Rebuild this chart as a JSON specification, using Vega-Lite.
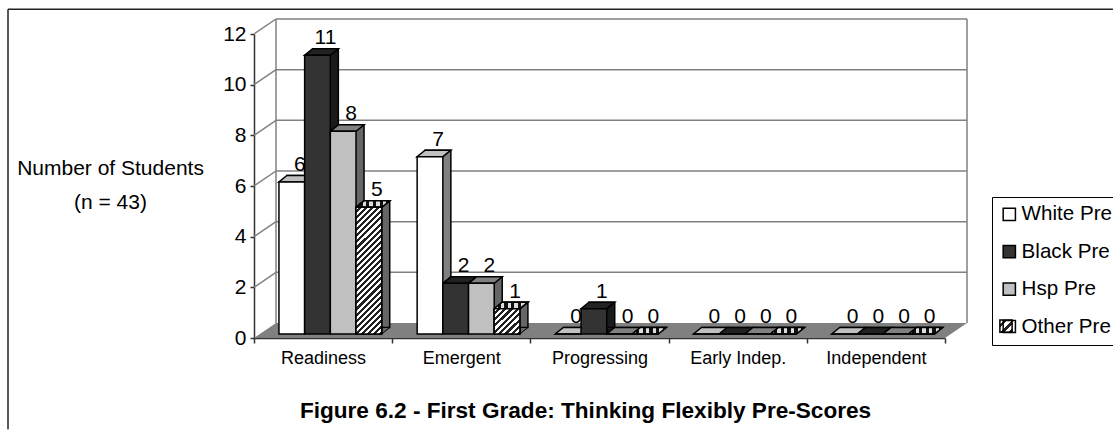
{"$schema":"https://vega.github.io/schema/vega-lite/v6.json","width":691,"height":304,"autosize":{"type":"none"},"padding":{"left":254,"top":34,"right":168,"bottom":92},"background":"white","config":{"view":{"stroke":null},"font":"Liberation Sans"},
"datasets":{"scores":[
{"category":"Readiness","series":"White Pre","value":6},{"category":"Readiness","series":"Black Pre","value":11},{"category":"Readiness","series":"Hsp Pre","value":8},{"category":"Readiness","series":"Other Pre","value":5},
{"category":"Emergent","series":"White Pre","value":7},{"category":"Emergent","series":"Black Pre","value":2},{"category":"Emergent","series":"Hsp Pre","value":2},{"category":"Emergent","series":"Other Pre","value":1},
{"category":"Progressing","series":"White Pre","value":0},{"category":"Progressing","series":"Black Pre","value":1},{"category":"Progressing","series":"Hsp Pre","value":0},{"category":"Progressing","series":"Other Pre","value":0},
{"category":"Early Indep.","series":"White Pre","value":0},{"category":"Early Indep.","series":"Black Pre","value":0},{"category":"Early Indep.","series":"Hsp Pre","value":0},{"category":"Early Indep.","series":"Other Pre","value":0},
{"category":"Independent","series":"White Pre","value":0},{"category":"Independent","series":"Black Pre","value":0},{"category":"Independent","series":"Hsp Pre","value":0},{"category":"Independent","series":"Other Pre","value":0}],
"ticks":[{"tick":2},{"tick":4},{"tick":6},{"tick":8},{"tick":10},{"tick":12}],"one":[{"part":"frame"}]},
"data":{"name":"scores"},
"resolve":{"scale":{"x":"independent"}},
"layer":[
{"data":{"name":"one"},"mark":{"type":"point","shape":"M-345.5,0 L345.5,0 L367.5,-15 L-323.5,-15 Z","size":4,"filled":true,"fill":"#808080","stroke":null,"opacity":1},"encoding":{"x":{"datum":0.5,"type":"quantitative","scale":{"domain":[0,1],"nice":false,"zero":false},"axis":null},"y":{"datum":0,"type":"quantitative","scale":{"domain":[0,12],"nice":false},"axis":{"values":[0,2,4,6,8,10,12],"grid":false,"title":["Number of Students","(n = 43)"],"titleAngle":0,"titleFont":"Liberation Sans","titleFontWeight":"normal","titleFontSize":21,"titleColor":"black","titleX":-144,"titleY":134,"titleLineHeight":34,"titleAlign":"center","titleBaseline":"middle","labelFontSize":21,"labelColor":"black","labelPadding":4,"tickSize":4,"tickColor":"#333","domainColor":"#333","domainWidth":1.5,"tickWidth":1.5}}}},
{"data":{"name":"ticks"},"mark":{"type":"rule","color":"#808080","strokeWidth":1.5,"xOffset":22,"x2Offset":22,"yOffset":-15},"encoding":{"x":{"datum":0,"type":"quantitative","scale":{"domain":[0,1],"nice":false,"zero":false},"axis":null},"x2":{"datum":1},"y":{"field":"tick","type":"quantitative"}}},
{"data":{"name":"ticks"},"mark":{"type":"point","shape":"M0,0 L22,-15","size":4,"filled":false,"stroke":"#808080","strokeWidth":1.5,"opacity":1},"encoding":{"x":{"datum":0,"type":"quantitative","scale":{"domain":[0,1],"nice":false,"zero":false},"axis":null},"y":{"field":"tick","type":"quantitative"}}},
{"data":{"name":"one"},"mark":{"type":"rule","color":"#808080","strokeWidth":1.5,"xOffset":22,"yOffset":-15,"y2Offset":-15},"encoding":{"x":{"datum":0,"type":"quantitative","scale":{"domain":[0,1],"nice":false,"zero":false},"axis":null},"y":{"datum":0},"y2":{"datum":12}}},
{"data":{"name":"one"},"mark":{"type":"rule","color":"#808080","strokeWidth":1.5,"xOffset":22,"yOffset":-15,"y2Offset":-15},"encoding":{"x":{"datum":1,"type":"quantitative","scale":{"domain":[0,1],"nice":false,"zero":false},"axis":null},"y":{"datum":0},"y2":{"datum":12}}},
{"data":{"name":"one"},"mark":{"type":"rule","color":"#222","strokeWidth":1.5},"encoding":{"x":{"datum":-0.356,"type":"quantitative","scale":{"domain":[0,1],"nice":false,"zero":false},"axis":null},"x2":{"datum":1.243},"y":{"datum":12.98}}},
{"data":{"name":"one"},"mark":{"type":"rule","color":"#222","strokeWidth":1.5},"encoding":{"x":{"datum":-0.356,"type":"quantitative","scale":{"domain":[0,1],"nice":false,"zero":false},"axis":null},"y":{"datum":12.98},"y2":{"datum":-3.6}}},
{"data":{"name":"one"},"mark":{"type":"point","shape":"square","size":150,"filled":true,"stroke":"black","strokeWidth":1.5,"opacity":1,"fill":{"gradient":"linear","x1":0,"y1":0,"x2":1,"y2":1,"stops":[{"offset":0,"color":"#fff"},{"offset":0.17,"color":"#fff"},{"offset":0.17,"color":"#222"},{"offset":0.33,"color":"#222"},{"offset":0.33,"color":"#fff"},{"offset":0.5,"color":"#fff"},{"offset":0.5,"color":"#222"},{"offset":0.67,"color":"#222"},{"offset":0.67,"color":"#fff"},{"offset":0.83,"color":"#fff"},{"offset":0.83,"color":"#222"},{"offset":1,"color":"#222"}]}},"encoding":{"x":{"datum":1.0883,"type":"quantitative","scale":{"domain":[0,1],"nice":false,"zero":false},"axis":null},"y":{"datum":0.47}}},
{"resolve":{"scale":{"fill":"independent","xOffset":"independent"}},
"encoding":{"x":{"field":"category","type":"nominal","sort":["Readiness","Emergent","Progressing","Early Indep.","Independent"],"scale":{"paddingInner":0,"paddingOuter":0},"axis":{"tickBand":"extent","labelAngle":0,"labelFontSize":18,"labelColor":"black","labelPadding":6,"tickSize":5,"tickColor":"#333","domainColor":"#333","domainWidth":1.5,"tickWidth":1.5,"title":"Figure 6.2 - First Grade: Thinking Flexibly Pre-Scores","titleFontSize":22.6,"titleFontWeight":"bold","titleColor":"black","titleX":331,"titleY":79,"titleBaseline":"alphabetic"}},"xOffset":{"field":"series","type":"nominal","scale":{"type":"band","domain":["White Pre","Black Pre","Hsp Pre","Other Pre"],"paddingInner":0,"paddingOuter":0.69,"align":0.704}},"y":{"field":"value","type":"quantitative"}},
"layer":[
{"mark":{"type":"bar","stroke":"black","strokeWidth":1.5,"yOffset":-10.5},"encoding":{"xOffset":{"field":"series","type":"nominal","scale":{"type":"band","domain":["White Pre","Black Pre","Hsp Pre","Other Pre"],"paddingInner":0,"paddingOuter":0.69,"align":0.93}},"fill":{"field":"series","type":"nominal","scale":{"domain":["White Pre","Black Pre","Hsp Pre","Other Pre"],"range":["#808080","#1a1a1a","#666666","#666666"]},"legend":null}}},
{"mark":{"type":"point","shape":"M12.9,0 L20.9,-6.5 L12.9,-6.5 Z","size":4,"filled":true,"stroke":"black","strokeWidth":1,"opacity":1,"yOffset":-4},"encoding":{"y":{"datum":0,"type":"quantitative"},"fill":{"field":"series","type":"nominal","scale":{"domain":["White Pre","Black Pre","Hsp Pre","Other Pre"],"range":["#808080","#1a1a1a","#666666","#666666"]},"legend":null}}},
{"mark":{"type":"point","shape":"M-12.9,0 L12.9,0 L20.9,-6.5 L-4.9,-6.5 Z","size":4,"filled":true,"stroke":"black","strokeWidth":1.5,"opacity":1,"yOffset":-4},"encoding":{"fill":{"field":"series","type":"nominal","scale":{"domain":["White Pre","Black Pre","Hsp Pre","Other Pre"],"range":["#c0c0c0","#222222","#808080","#999999"]},"legend":null}}},
{"transform":[{"filter":"datum.series=='Other Pre'"}],"mark":{"type":"point","shape":"M-12.9,0 L12.9,0 L20.9,-6.5 L-4.9,-6.5 Z","size":4,"filled":true,"stroke":"black","strokeWidth":1.5,"opacity":1,"yOffset":-4,"fill":{"gradient":"linear","x1":0,"y1":0,"x2":1,"y2":0,"stops":[{"offset":0,"color":"#ddd"},{"offset":0.1,"color":"#ddd"},{"offset":0.1,"color":"#111"},{"offset":0.2,"color":"#111"},{"offset":0.2,"color":"#ddd"},{"offset":0.3,"color":"#ddd"},{"offset":0.3,"color":"#111"},{"offset":0.4,"color":"#111"},{"offset":0.4,"color":"#ddd"},{"offset":0.5,"color":"#ddd"},{"offset":0.5,"color":"#111"},{"offset":0.6,"color":"#111"},{"offset":0.6,"color":"#ddd"},{"offset":0.7,"color":"#ddd"},{"offset":0.7,"color":"#111"},{"offset":0.8,"color":"#111"},{"offset":0.8,"color":"#ddd"},{"offset":0.9,"color":"#ddd"},{"offset":0.9,"color":"#111"},{"offset":1,"color":"#111"}]}}},
{"mark":{"type":"bar","stroke":"black","strokeWidth":1.5,"yOffset":-4},"encoding":{"fill":{"field":"series","type":"nominal","scale":{"domain":["White Pre","Black Pre","Hsp Pre","Other Pre"],"range":["#ffffff","#333333","#c0c0c0","transparent"]},"legend":{"title":null,"orient":"none","legendX":738,"legendY":163,"strokeColor":"black","padding":7,"symbolType":"square","symbolSize":150,"symbolStrokeColor":"black","symbolStrokeWidth":1.5,"labelFontSize":20.6,"labelColor":"black","labelOffset":2,"rowPadding":16.4,"encoding":{"symbols":{"stroke":{"value":"black"},"strokeWidth":{"value":1.5}}}}}}},
{"transform":[{"filter":"datum.series=='Other Pre' && datum.value==5"}],"mark":{"type":"bar","stroke":"black","strokeWidth":1.5,"yOffset":-4,"fill":{"gradient":"linear","x1":0,"y1":0,"x2":0.234,"y2":1.156,"stops":[{"offset":0,"color":"#fff"},{"offset":0.02,"color":"#fff"},{"offset":0.02,"color":"#222"},{"offset":0.04,"color":"#222"},{"offset":0.04,"color":"#fff"},{"offset":0.06,"color":"#fff"},{"offset":0.06,"color":"#222"},{"offset":0.08,"color":"#222"},{"offset":0.08,"color":"#fff"},{"offset":0.1,"color":"#fff"},{"offset":0.1,"color":"#222"},{"offset":0.12,"color":"#222"},{"offset":0.12,"color":"#fff"},{"offset":0.14,"color":"#fff"},{"offset":0.14,"color":"#222"},{"offset":0.16,"color":"#222"},{"offset":0.16,"color":"#fff"},{"offset":0.18,"color":"#fff"},{"offset":0.18,"color":"#222"},{"offset":0.2,"color":"#222"},{"offset":0.2,"color":"#fff"},{"offset":0.22,"color":"#fff"},{"offset":0.22,"color":"#222"},{"offset":0.24,"color":"#222"},{"offset":0.24,"color":"#fff"},{"offset":0.26,"color":"#fff"},{"offset":0.26,"color":"#222"},{"offset":0.28,"color":"#222"},{"offset":0.28,"color":"#fff"},{"offset":0.3,"color":"#fff"},{"offset":0.3,"color":"#222"},{"offset":0.32,"color":"#222"},{"offset":0.32,"color":"#fff"},{"offset":0.34,"color":"#fff"},{"offset":0.34,"color":"#222"},{"offset":0.36,"color":"#222"},{"offset":0.36,"color":"#fff"},{"offset":0.38,"color":"#fff"},{"offset":0.38,"color":"#222"},{"offset":0.4,"color":"#222"},{"offset":0.4,"color":"#fff"},{"offset":0.42,"color":"#fff"},{"offset":0.42,"color":"#222"},{"offset":0.44,"color":"#222"},{"offset":0.44,"color":"#fff"},{"offset":0.46,"color":"#fff"},{"offset":0.46,"color":"#222"},{"offset":0.48,"color":"#222"},{"offset":0.48,"color":"#fff"},{"offset":0.5,"color":"#fff"},{"offset":0.5,"color":"#222"},{"offset":0.52,"color":"#222"},{"offset":0.52,"color":"#fff"},{"offset":0.54,"color":"#fff"},{"offset":0.54,"color":"#222"},{"offset":0.56,"color":"#222"},{"offset":0.56,"color":"#fff"},{"offset":0.58,"color":"#fff"},{"offset":0.58,"color":"#222"},{"offset":0.6,"color":"#222"},{"offset":0.6,"color":"#fff"},{"offset":0.62,"color":"#fff"},{"offset":0.62,"color":"#222"},{"offset":0.64,"color":"#222"},{"offset":0.64,"color":"#fff"},{"offset":0.66,"color":"#fff"},{"offset":0.66,"color":"#222"},{"offset":0.68,"color":"#222"},{"offset":0.68,"color":"#fff"},{"offset":0.7,"color":"#fff"},{"offset":0.7,"color":"#222"},{"offset":0.72,"color":"#222"},{"offset":0.72,"color":"#fff"},{"offset":0.74,"color":"#fff"},{"offset":0.74,"color":"#222"},{"offset":0.76,"color":"#222"},{"offset":0.76,"color":"#fff"},{"offset":0.78,"color":"#fff"},{"offset":0.78,"color":"#222"},{"offset":0.8,"color":"#222"},{"offset":0.8,"color":"#fff"},{"offset":0.82,"color":"#fff"},{"offset":0.82,"color":"#222"},{"offset":0.84,"color":"#222"},{"offset":0.84,"color":"#fff"},{"offset":0.86,"color":"#fff"},{"offset":0.86,"color":"#222"},{"offset":0.88,"color":"#222"},{"offset":0.88,"color":"#fff"},{"offset":0.9,"color":"#fff"},{"offset":0.9,"color":"#222"},{"offset":0.92,"color":"#222"},{"offset":0.92,"color":"#fff"},{"offset":0.94,"color":"#fff"},{"offset":0.94,"color":"#222"},{"offset":0.96,"color":"#222"},{"offset":0.96,"color":"#fff"},{"offset":0.98,"color":"#fff"},{"offset":0.98,"color":"#222"},{"offset":1,"color":"#222"}]}}},
{"transform":[{"filter":"datum.series=='Other Pre' && datum.value==1"}],"mark":{"type":"bar","stroke":"black","strokeWidth":1.5,"yOffset":-4,"fill":{"gradient":"linear","x1":0,"y1":0,"x2":1,"y2":1,"stops":[{"offset":0,"color":"#fff"},{"offset":0.0625,"color":"#fff"},{"offset":0.0625,"color":"#222"},{"offset":0.125,"color":"#222"},{"offset":0.125,"color":"#fff"},{"offset":0.1875,"color":"#fff"},{"offset":0.1875,"color":"#222"},{"offset":0.25,"color":"#222"},{"offset":0.25,"color":"#fff"},{"offset":0.3125,"color":"#fff"},{"offset":0.3125,"color":"#222"},{"offset":0.375,"color":"#222"},{"offset":0.375,"color":"#fff"},{"offset":0.4375,"color":"#fff"},{"offset":0.4375,"color":"#222"},{"offset":0.5,"color":"#222"},{"offset":0.5,"color":"#fff"},{"offset":0.5625,"color":"#fff"},{"offset":0.5625,"color":"#222"},{"offset":0.625,"color":"#222"},{"offset":0.625,"color":"#fff"},{"offset":0.6875,"color":"#fff"},{"offset":0.6875,"color":"#222"},{"offset":0.75,"color":"#222"},{"offset":0.75,"color":"#fff"},{"offset":0.8125,"color":"#fff"},{"offset":0.8125,"color":"#222"},{"offset":0.875,"color":"#222"},{"offset":0.875,"color":"#fff"},{"offset":0.9375,"color":"#fff"},{"offset":0.9375,"color":"#222"},{"offset":1,"color":"#222"}]}}},
{"mark":{"type":"text","font":"Liberation Sans","fontSize":21,"color":"black","baseline":"bottom","dx":8,"dy":-11},"encoding":{"text":{"field":"value","type":"quantitative"}}}
]}
]}
